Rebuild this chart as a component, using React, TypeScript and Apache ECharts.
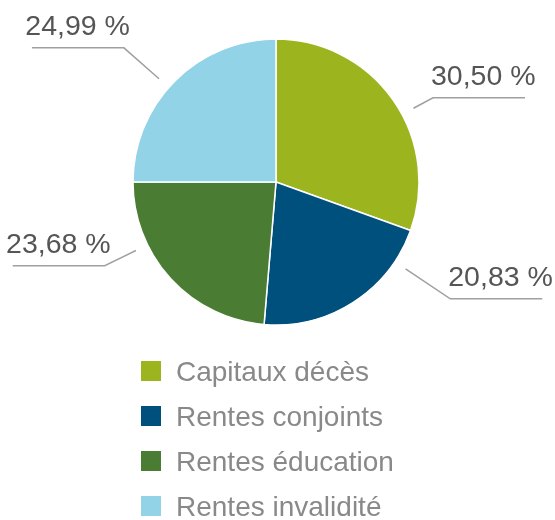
import React, { useEffect, useRef } from "react";
import * as echarts from "echarts";

const categories = ["Capitaux décès", "Rentes conjoints", "Rentes éducation", "Rentes invalidité"];
const values = [30.5, 20.83, 23.68, 24.99];
const colors = ["#9cb51f", "#00507e", "#4a7c34", "#92d3e7"];

// label layout tuning (offset of the underline's inner corner from the slice's edge anchor)
const labelOffsets: [number, number][] = [
  [40, -2],
  [97, -3.5],
  [-66, -13],
  [-51, -33],
];

const CX = 276;
const CY = 182;
const R = 143;
const GAP = 13;
const UNDERLINE = 92;

function fmt(v: number) {
  return v.toFixed(2).replace(".", ",") + " %";
}

export default function App() {
  const ref = useRef<HTMLDivElement>(null);
  useEffect(() => {
    if (!ref.current) return;
    const chart = echarts.init(ref.current, null, { renderer: "svg" });
    chart.setOption({
      animation: false,
      color: colors,
      legend: {
        orient: "vertical",
        left: 139,
        top: 357,
        height: 200,
        padding: 0,
        itemWidth: 22,
        itemHeight: 22,
        itemGap: 17,
        icon: "rect",
        data: categories,
        textStyle: {
          fontFamily: "Liberation Sans, Arial, sans-serif",
          fontSize: 28,
          color: "#898989",
          padding: [0, 0, 0, 9],
        },
      },
      series: [
        {
          type: "pie",
          center: [CX, CY],
          radius: [0, R],
          startAngle: 90,
          clockwise: true,
          itemStyle: { borderColor: "#ffffff", borderWidth: 1.5 },
          label: {
            show: true,
            formatter: (p: any) => fmt(p.value),
            fontFamily: "Liberation Sans, Arial, sans-serif",
            fontSize: 28.5,
            color: "#555555",
          },
          labelLine: {
            show: true,
            length: 20,
            length2: 20,
            lineStyle: { color: "#a0a0a0", width: 1.5 },
          },
          labelLayout: (params: any) => {
            const i = params.dataIndex;
            const e = params.labelLinePoints ? params.labelLinePoints[0] : [CX, CY];
            const off = labelOffsets[i];
            const p1 = [e[0] + off[0], e[1] + off[1]];
            const isLeft = off[0] < 0;
            const dx = p1[0] - CX;
            const dy = p1[1] - CY;
            const d = Math.sqrt(dx * dx + dy * dy);
            const p0 = [CX + (dx / d) * (R + GAP), CY + (dy / d) * (R + GAP)];
            const p2 = [p1[0] + (isLeft ? -UNDERLINE : UNDERLINE), p1[1]];
            return {
              x: isLeft ? p1[0] + 6 : p1[0] - 2,
              y: p1[1] - 8,
              align: isLeft ? "right" : "left",
              verticalAlign: "bottom",
              labelLinePoints: [p0, p1, p2],
            };
          },
          data: categories.map((name, i) => ({ name, value: values[i] })),
        },
      ],
    });
    return () => chart.dispose();
  }, []);
  return (
    <div
      ref={ref}
      style={{ position: "fixed", left: 0, top: 0, width: 555, height: 520 }}
    />
  );
}
